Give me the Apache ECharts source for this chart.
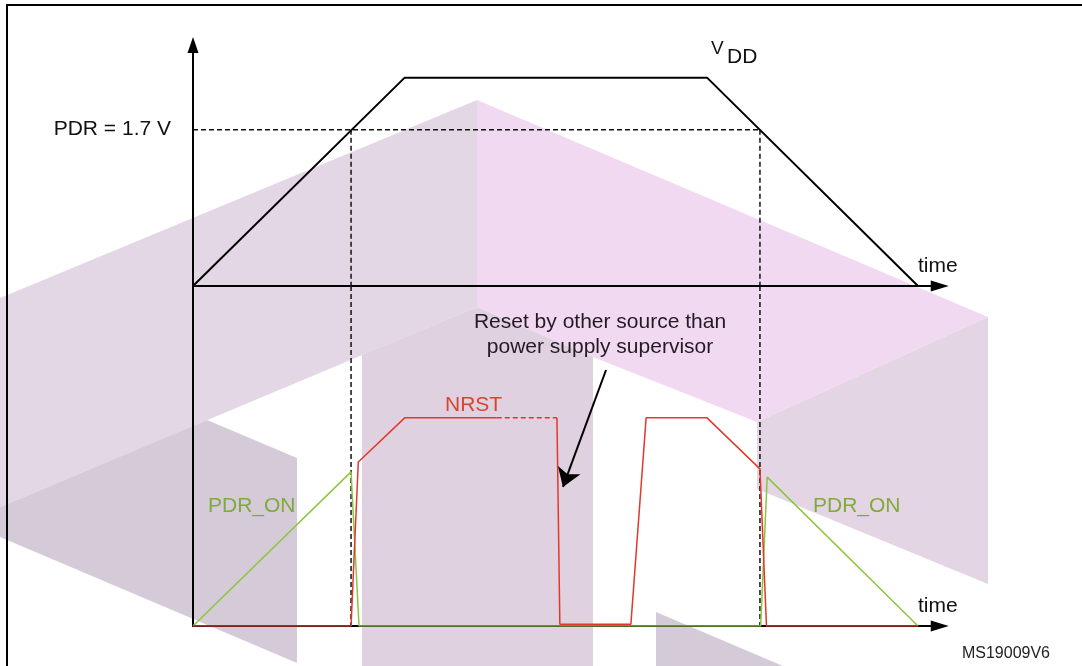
<!DOCTYPE html>
<html>
<head>
<meta charset="utf-8">
<script src="https://cdn.jsdelivr.net/npm/echarts@6/dist/echarts.min.js"></script>
<style>
    html, body { margin: 0; padding: 0; background: #fff; }
    #chart { width: 1082px; height: 666px; }
</style>
</head>
<body>
<div id="chart"></div>
<script>
// time axis is in arbitrary units, voltages in V
var vdd = [[0, 0], [29.2, 2.265], [70.9, 2.265], [100, 0]];
var pdrLevel = 1.7;
var pdrCross = [21.8, 78.2];

// NRST: solid part, held (dashed) part, then the rest
var nrstRise = [[0, 0], [21.8, 0], [22.8, 1.785], [29.2, 2.265], [41.9, 2.265]];
var nrstHeld = [[41.9, 2.265], [50.2, 2.265]];
var nrstRest = [[50.2, 2.265], [50.6, 0.02], [60.4, 0.02], [62.5, 2.265], [70.9, 2.265],
                [78.2, 1.71], [79.1, 0], [100, 0]];
var pdrOn = [[0, 0], [21.8, 1.677], [22.9, 0], [78.3, 0], [79.2, 1.62], [100, 0]];

// arrow "reset by other source"
var resetArrow = [[56.97, 2.786], [51.03, 1.513]];

var FONT = 'Liberation Sans, Arial, sans-serif';
var RED = '#e2382c';
var GREEN = '#8cc63f';

function dashed_series(data, grid) {
    return {
        type: 'line',
        xAxisIndex: grid,
        yAxisIndex: grid,
        data: data,
        symbol: 'none',
        silent: true,
        z: 4,
        lineStyle: { color: '#111', width: 1.5, type: [5, 3] }
    };
}

function time_axis(grid) {
    return {
        type: 'value',
        gridIndex: grid,
        min: 0,
        max: 103,
        name: 'time',
        nameLocation: 'end',
        nameGap: -2,
        nameTextStyle: {
            fontFamily: FONT, fontSize: 21, color: '#111',
            align: 'center', verticalAlign: 'bottom', lineHeight: 21,
            padding: [0, 0, 9, 0]
        },
        axisLine: {
            show: true, onZero: false,
            symbol: ['none', 'triangle'], symbolSize: [11, 18],
            lineStyle: { color: '#000', width: 2 }
        },
        axisTick: { show: false },
        axisLabel: { show: false },
        splitLine: { show: false }
    };
}

// watermark (logo) behind the drawing, pixel polygons
function watermark(points, color) {
    return {
        type: 'polygon',
        z: -10,
        silent: true,
        shape: { points: points },
        style: { fill: color }
    };
}

function label(text, x, y, size, color, align) {
    return {
        type: 'text',
        z: 100,
        x: x,
        y: y,
        style: {
            text: text,
            fontFamily: FONT,
            fontSize: size,
            fill: color,
            align: align || 'left',
            verticalAlign: 'middle'
        }
    };
}

var chart = echarts.init(document.getElementById('chart'));

var series = [
    {
        type: 'line', xAxisIndex: 0, yAxisIndex: 0, data: vdd, symbol: 'none', z: 5,
        lineStyle: { color: '#000', width: 2 }
    },
    dashed_series([[0, pdrLevel], [pdrCross[1], pdrLevel]], 0),
    dashed_series([[pdrCross[0], pdrLevel], [pdrCross[0], 0]], 0),
    dashed_series([[pdrCross[1], pdrLevel], [pdrCross[1], 0]], 0),
    dashed_series([[pdrCross[0], 3.7], [pdrCross[0], 0]], 1),
    dashed_series([[pdrCross[1], 3.7], [pdrCross[1], 0]], 1),
    {
        type: 'line', xAxisIndex: 1, yAxisIndex: 1, data: pdrOn, symbol: 'none', z: 5,
        lineStyle: { color: GREEN, width: 1.5 }
    },
    {
        type: 'line', xAxisIndex: 1, yAxisIndex: 1, data: nrstRise, symbol: 'none', z: 6,
        lineStyle: { color: RED, width: 1.5 }
    },
    {
        type: 'line', xAxisIndex: 1, yAxisIndex: 1, data: nrstHeld, symbol: 'none', z: 6,
        lineStyle: { color: RED, width: 1.5, type: [5, 3] }
    },
    {
        type: 'line', xAxisIndex: 1, yAxisIndex: 1, data: nrstRest, symbol: 'none', z: 6,
        lineStyle: { color: RED, width: 1.5 }
    },
    {
        type: 'lines',
        coordinateSystem: 'cartesian2d',
        xAxisIndex: 1, yAxisIndex: 1,
        symbol: ['none', 'arrow'],
        symbolSize: [12, 18],
        z: 7,
        lineStyle: { color: '#000', width: 2, opacity: 1 },
        data: [{ coords: resetArrow }]
    }
];

chart.setOption({
    animation: false,
    backgroundColor: '#fff',
    grid: [
        { left: 193, top: 45, width: 746.75, height: 241, containLabel: false, outerBoundsMode: 'none' },
        { left: 193, top: 286, width: 746.75, height: 340, containLabel: false, outerBoundsMode: 'none' }
    ],
    xAxis: [time_axis(0), time_axis(1)],
    yAxis: [
        {
            type: 'value', gridIndex: 0, min: 0, max: 2.62,
            axisLine: {
                show: true, onZero: false,
                symbol: ['none', 'triangle'], symbolSize: [11, 16],
                lineStyle: { color: '#000', width: 2 }
            },
            axisTick: { show: false },
            splitLine: { show: false },
            axisLabel: {
                show: true,
                customValues: [pdrLevel],
                formatter: 'PDR = {value} V',
                margin: 22,
                fontFamily: FONT, fontSize: 21, color: '#111'
            }
        },
        {
            type: 'value', gridIndex: 1, min: 0, max: 3.7,
            axisLine: { show: true, onZero: false, lineStyle: { color: '#000', width: 2 } },
            axisTick: { show: false },
            splitLine: { show: false },
            axisLabel: { show: false }
        }
    ],
    graphic: [
        watermark([[0, 298], [477, 100], [477, 307], [0, 507]], '#e4d7e5'),
        watermark([[477, 100], [988, 317], [757, 422], [593, 357], [477, 307]], '#f1d9f1'),
        watermark([[362, 355], [477, 307], [593, 357], [593, 666], [362, 666]], '#dfd1df'),
        watermark([[0, 507], [207, 420], [297, 458], [297, 663], [0, 537]], '#d5cbd8'),
        watermark([[757, 422], [988, 317], [988, 584], [757, 489]], '#e3d5e4'),
        watermark([[656, 612], [783, 666], [656, 666]], '#d5cbd8'),
        {
            type: 'rect', z: 50, silent: true,
            shape: { x: 7, y: 5, width: 1110, height: 700 },
            style: { fill: 'none', stroke: '#000', lineWidth: 2 }
        },
        label('V', 711, 49, 19, '#111'),
        label('DD', 727, 57, 21, '#111'),
        label('NRST', 445, 405, 21, '#d9432f'),
        label('PDR_ON', 208, 506, 21, '#7fab3b'),
        label('PDR_ON', 813, 506, 21, '#7fab3b'),
        {
            type: 'text', z: 100, x: 600, y: 310,
            style: {
                text: 'Reset by other source than\npower supply supervisor',
                fontFamily: FONT, fontSize: 21, lineHeight: 25, fill: '#231a23',
                align: 'center', verticalAlign: 'top'
            }
        },
        label('MS19009V6', 1050, 654, 16, '#222', 'right')
    ],
    series: series
});
</script>
</body>
</html>
